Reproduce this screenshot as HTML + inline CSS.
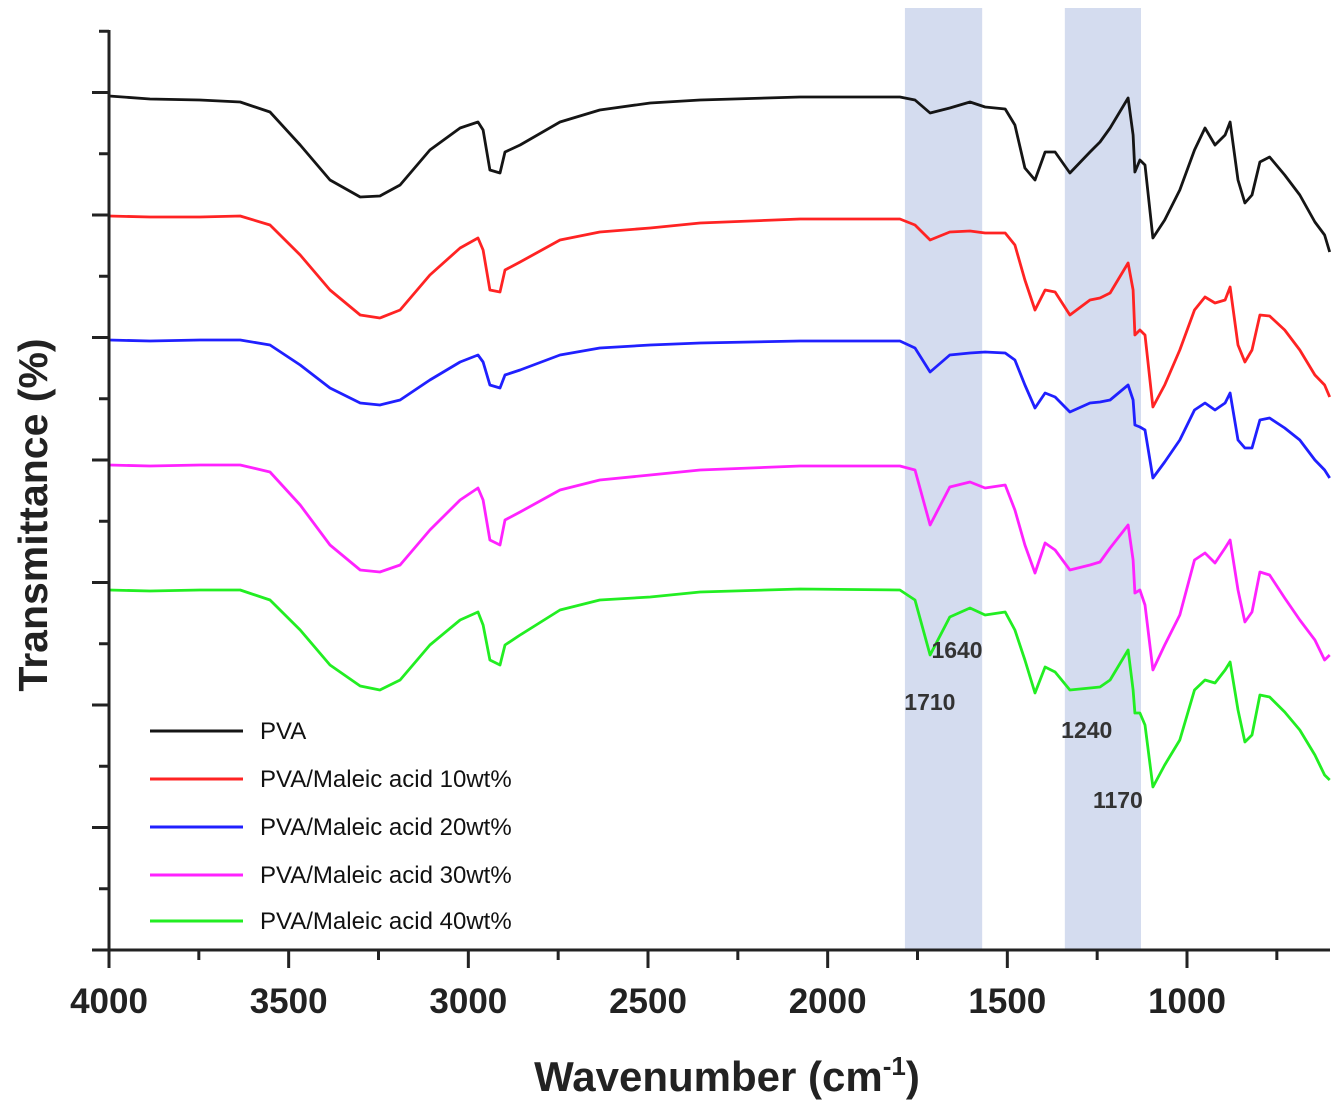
<!DOCTYPE html>
<html><head><meta charset="utf-8">
<style>
html,body{margin:0;padding:0;background:#fff;}
svg{display:block;}
text{font-family:"Liberation Sans",Arial,sans-serif;}
</style></head>
<body>
<svg id="chart" width="1339" height="1108" viewBox="0 0 1339 1108" xmlns="http://www.w3.org/2000/svg">
  <g id="bands"></g>
  <g id="series"></g>
  <g id="axes"></g>
  <g id="labels"></g>
  <g id="legend"></g>
</svg>
<script>
const wavenumbers = [4000,3886,3747,3635,3552,3468,3385,3301,3246,3190,3107,3023,2973,2959,2940,2912,2898,2856,2745,2634,2494,2355,2077,1799,1757,1715,1660,1604,1562,1506,1479,1451,1423,1395,1367,1326,1270,1242,1214,1164,1150,1145,1131,1117,1095,1062,1020,979,950,922,894,880,858,839,819,797,770,728,686,644,617,603];
const pva = [854,851,850,848,838,805,770,753,754,765,800,822,828,820,780,777,798,805,828,840,847,850,853,853,850,837,842,848,843,841,825,782,770,798,798,777,798,808,822,852,815,778,790,785,712,730,760,800,822,805,815,828,770,747,755,788,793,775,755,728,715,698];
const ma10 = [734,733,733,734,725,695,660,635,632,640,675,702,712,700,660,658,680,688,710,718,722,727,731,731,725,710,718,719,717,717,705,670,640,660,658,635,650,652,657,687,660,615,620,615,543,565,600,640,653,647,650,663,605,588,600,635,634,620,600,575,565,553];
const ma20 = [610,609,610,610,605,585,562,547,545,550,570,588,595,588,565,562,575,580,595,602,605,607,609,609,602,578,595,597,598,597,590,565,542,557,553,538,547,548,550,565,550,525,523,520,472,488,510,540,547,540,547,557,510,502,502,530,532,522,510,490,480,472];
const ma30 = [485,484,485,485,478,445,405,380,378,385,420,450,462,450,410,405,430,438,460,470,475,480,484,484,480,425,463,468,462,465,440,405,377,407,400,380,385,388,402,425,390,357,360,345,280,305,335,390,397,387,402,410,360,328,338,378,375,352,330,310,290,295];
const ma40 = [360,359,360,360,350,320,285,264,260,270,305,330,338,325,290,285,305,315,340,350,353,358,361,360,350,295,333,342,335,338,320,290,257,283,278,260,262,263,270,300,260,237,237,225,163,185,210,260,270,267,280,288,240,208,215,255,253,238,220,195,175,170];
const seriesNames = ["PVA","PVA/Maleic acid 10wt%","PVA/Maleic acid 20wt%","PVA/Maleic acid 30wt%","PVA/Maleic acid 40wt%"];
const seriesColors = ["#151515","#ff2323","#2020ff","#ff22ff","#22ee22"];
const xTickLabels = [4000,3500,3000,2500,2000,1500,1000];
const xMinorTicks = [3750,3250,2750,2250,1750,1250,750];
const yMajorTicks = [0,122.5,245,367.5,490,612.5,735,857.5];
const yMinorTicks = [61.25,183.75,306.25,428.75,551.25,673.75,796.25,918.75];
const bandRanges = [[1785,1570],[1340,1128]];
const peakLabels = ["1640","1710","1240","1170"];
const peakWn = [1640,1710,1240,1170];
const peakVal = [292,240,212,142];

const X0=109, XR=1187, plotBottom=950, plotTop=30;
function xs(wn){ return X0 + (4000-wn)*(XR-X0)/3000; }
function ys(v){ return plotBottom - v*(plotBottom-plotTop)/920; }
const NS="http://www.w3.org/2000/svg";
function mk(tag, parent){ const e=document.createElementNS(NS,tag); parent.appendChild(e); return e; }

const bandG=document.getElementById('bands');
bandRanges.forEach((b,i)=>{
  const r=mk('rect',bandG);
  
  
  r.setAttribute('x',xs(b[0])); r.setAttribute('width',xs(b[1])-xs(b[0]));
  r.setAttribute('y',8); r.setAttribute('height',plotBottom-8);
  r.setAttribute('fill','#d4dcef');
});

const allSeries=[pva,ma10,ma20,ma30,ma40];
const sG=document.getElementById('series');
allSeries.forEach((s,i)=>{
  const p=mk('path',sG);
  
  
  let d='';
  s.forEach((v,j)=>{ d+=(j?'L':'M')+xs(wavenumbers[j]).toFixed(1)+','+ys(v).toFixed(1); });
  p.setAttribute('d',d);
  p.setAttribute('fill','none'); p.setAttribute('stroke',seriesColors[i]);
  p.setAttribute('stroke-width','2.8'); p.setAttribute('stroke-linejoin','round');
});

const aG=document.getElementById('axes');
function line(x1,y1,x2,y2,w,name){ const l=mk('line',aG);
  
  
  l.setAttribute('x1',x1);l.setAttribute('y1',y1);l.setAttribute('x2',x2);l.setAttribute('y2',y2);
  l.setAttribute('stroke','#222');l.setAttribute('stroke-width',w); }
line(X0,plotTop,X0,plotBottom+1,3,'y-axis-line');
line(X0-1,plotBottom,1330,plotBottom,3,'x-axis-line');
yMajorTicks.forEach(v=>line(X0-17,ys(v),X0,ys(v),3,'y-major-tick'));
yMinorTicks.forEach(v=>line(X0-10,ys(v),X0,ys(v),3,'y-minor-tick'));
xTickLabels.forEach(w=>{
  line(xs(w),plotBottom,xs(w),plotBottom+18,3,'x-major-tick');
  const t=mk('text',aG);
  
  
  t.setAttribute('x',xs(w)); t.setAttribute('y',1013);
  t.setAttribute('text-anchor','middle'); t.setAttribute('font-size','35'); t.setAttribute('font-weight','bold'); t.setAttribute('fill','#222');
  t.textContent=w;
});
xMinorTicks.forEach(w=>line(xs(w),plotBottom,xs(w),plotBottom+10,3,'x-minor-tick'));

const lG=document.getElementById('labels');
const offs=[0,-2,-14,-8];
peakLabels.forEach((s,i)=>{
  const t=mk('text',lG);
  
  
  t.setAttribute('x',xs(peakWn[i])+offs[i]); t.setAttribute('y',ys(peakVal[i]));
  t.setAttribute('text-anchor','middle');
  t.setAttribute('font-size','23'); t.setAttribute('fill','#333'); t.setAttribute('font-weight','bold');
  t.textContent=s;
});
</script>
<svg style="position:absolute;left:0;top:0" width="1339" height="1108">
  <text x="47" y="515" transform="rotate(-90 47 515)" text-anchor="middle" font-size="41" font-weight="bold" fill="#222" font-family="Liberation Sans, Arial, sans-serif">Transmittance (%)</text>
  <text x="727" y="1091" text-anchor="middle" font-size="42" font-weight="bold" fill="#222" font-family="Liberation Sans, Arial, sans-serif">Wavenumber (cm<tspan dy="-16" font-size="26">-1</tspan><tspan dy="16">)</tspan></text>
  <g font-family="Liberation Sans, Arial, sans-serif" font-size="24" fill="#111">
    <line x1="150" y1="731" x2="243" y2="731" stroke="#151515" stroke-width="3"/>
    <text x="260" y="739">PVA</text>
    <line x1="150" y1="779" x2="243" y2="779" stroke="#ff2323" stroke-width="3"/>
    <text x="260" y="787">PVA/Maleic acid 10wt%</text>
    <line x1="150" y1="827" x2="243" y2="827" stroke="#2020ff" stroke-width="3"/>
    <text x="260" y="835">PVA/Maleic acid 20wt%</text>
    <line x1="150" y1="875" x2="243" y2="875" stroke="#ff22ff" stroke-width="3"/>
    <text x="260" y="883">PVA/Maleic acid 30wt%</text>
    <line x1="150" y1="921" x2="243" y2="921" stroke="#22ee22" stroke-width="3"/>
    <text x="260" y="929">PVA/Maleic acid 40wt%</text>
  </g>
</svg>
</body></html>
